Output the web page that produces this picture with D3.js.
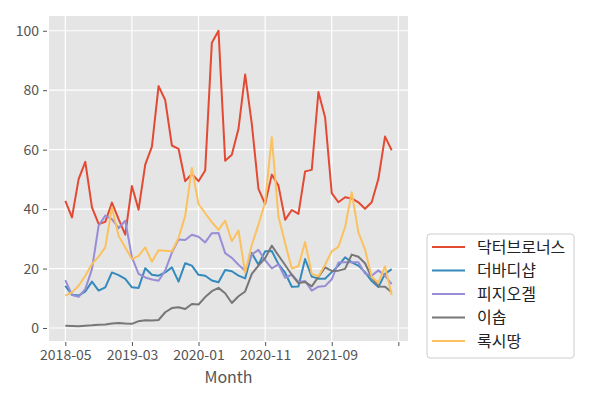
<!DOCTYPE html>
<html>
<head>
<meta charset="utf-8">
<script src="https://cdn.jsdelivr.net/npm/d3@7"></script>
<style>
  body { margin: 0; background: #fff; }
  svg { font-family: "Noto Sans CJK KR", "Noto Sans", sans-serif; }
</style>
</head>
<body>
<div class="chart"></div>
<script>
var svgWidth = 600;
var svgHeight = 400;

// plot area position (matches the reference)
var margin = { top: 16, right: 192, bottom: 59, left: 49 };
var width = svgWidth - margin.left - margin.right;
var height = svgHeight - margin.top - margin.bottom;

// months 2018-05 .. 2022-06
var months = [];
for (var m = 0; m < 50; m++) {
  var d = new Date(2018, 4 + m, 1);
  months.push(d3.timeFormat("%Y-%m")(d));
}

var seriesNames = ["닥터브로너스", "더바디샵", "피지오겔", "이솝", "록시땅"];
var colors = ["#E24A33", "#348ABD", "#988ED5", "#777777", "#FBC15E"];

var drBronners = [42.8, 37.2, 50.1, 55.9, 40.6, 35, 35.7, 42.2, 36.6, 31.4,
  47.8, 39.8, 55, 61, 81.4, 76.7, 61.4, 60.3, 49.4, 51.8,
  49.4, 53, 96, 100, 56.3, 58.3, 67, 85.3, 68.7, 46.8,
  41.7, 51.6, 47.9, 36.4, 39.7, 38.4, 52.7, 53.2, 79.4, 70.9,
  45.4, 42.3, 44, 43.6, 42.3, 40.1, 42.3, 50.1, 64.4, 59.8];
var bodyShop = [14.2, 11.2, 10.9, 12.3, 15.6, 12.6, 13.7, 18.7, 17.8, 16.5,
  13.7, 13.5, 20.1, 17.9, 17.6, 18.7, 20.4, 15.6, 21.8, 21,
  17.9, 17.6, 16, 15.4, 19.5, 19.1, 17.6, 16.7, 25.2, 21.3,
  25.8, 25.9, 21.5, 18.6, 13.9, 14, 23.2, 17.3, 16.6, 16.6,
  18.8, 21, 23.8, 22.1, 21, 18.8, 15.8, 13.8, 18.2, 19.8];
var physiogel = [16.1, 11.1, 10.5, 13.1, 19.8, 34.4, 37.8, 36.6, 33.6, 36.1,
  23.8, 18.2, 17, 16.3, 15.9, 19.3, 25.4, 29.8, 29.6, 31.4,
  30.7, 28.8, 31.9, 32, 25.2, 23.6, 21.3, 19.3, 24.7, 26.3,
  22.8, 20.1, 21.4, 16.9, 18, 15.5, 15.8, 12.6, 13.9, 14.1,
  16.4, 22, 22.1, 22.1, 22.1, 18.3, 17.6, 19.4, 17.6, 14.8];
var aesop = [0.8, 0.7, 0.6, 0.8, 0.9, 1.1, 1.2, 1.5, 1.7, 1.5,
  1.4, 2.3, 2.6, 2.5, 2.7, 5.3, 6.7, 7, 6.4, 8.1,
  7.9, 10.4, 12.4, 13.5, 11.7, 8.4, 10.7, 12.3, 18.2, 21,
  23.5, 27.7, 24.4, 21.2, 17.9, 15.1, 15.5, 14, 17.2, 20.4,
  19.2, 19.3, 19.9, 24.7, 24, 21.8, 17, 14, 13.9, 12];
var loccitane = [10.9, 12, 14.2, 17.6, 21.5, 24, 27.1, 40.5, 31, 27.1,
  23.2, 24.3, 27.1, 22.3, 26.2, 26, 25.8, 30.3, 37.8, 53.8,
  41.7, 38.6, 35.6, 33, 36.1, 29.2, 32.8, 18.6, 28, 34.8,
  42.3, 64.2, 37.5, 28.5, 20, 20.8, 28.9, 18.2, 17.4, 21.3,
  25.8, 27.3, 33.9, 45.7, 32.2, 26.4, 17.2, 15.2, 20.7, 11.1];

var seriesValues = [drBronners, bodyShop, physiogel, aesop, loccitane];

// tick positions every 10 months, last one has no label
var tickIndex = [0, 10, 20, 30, 40, 50];
var tickLabels = ["2018-05", "2019-03", "2020-01", "2020-11", "2021-09", ""];
var yTicks = [0, 20, 40, 60, 80, 100];

var svg = d3.select(".chart")
  .append("svg")
  .attr("width", svgWidth)
  .attr("height", svgHeight);

var chartGroup = svg.append("g")
  .attr("transform", `translate(${margin.left}, ${margin.top})`);

// matplotlib style 5% margins
var n = months.length;
var xPad = (n - 1) * 0.05;
var xScale = d3.scaleLinear()
  .domain([-xPad, n - 1 + xPad])
  .range([0, width]);

var allValues = d3.merge(seriesValues);
var yMin = d3.min(allValues), yMax = d3.max(allValues);
var yPad = (yMax - yMin) * 0.05;
var yScale = d3.scaleLinear()
  .domain([yMin - yPad, yMax + yPad])
  .range([height, 0]);

// background
chartGroup.append("rect")
  .attr("width", width)
  .attr("height", height)
  .attr("fill", "#E5E5E5");

// grid lines
chartGroup.selectAll(".xgrid")
  .data(tickIndex)
  .enter()
  .append("line")
  .attr("x1", d => xScale(d))
  .attr("x2", d => xScale(d))
  .attr("y1", 0)
  .attr("y2", height)
  .attr("stroke", "#fff")
  .attr("stroke-width", 1.2);

chartGroup.selectAll(".ygrid")
  .data(yTicks)
  .enter()
  .append("line")
  .attr("x1", 0)
  .attr("x2", width)
  .attr("y1", d => yScale(d))
  .attr("y2", d => yScale(d))
  .attr("stroke", "#fff")
  .attr("stroke-width", 1.2);

// axes
var bottomAxis = d3.axisBottom(xScale)
  .tickValues(tickIndex)
  .tickFormat((d, i) => tickLabels[i])
  .tickSize(4)
  .tickPadding(4);

var leftAxis = d3.axisLeft(yScale)
  .tickValues(yTicks)
  .tickSize(4)
  .tickPadding(4);

var xAxis = chartGroup.append("g")
  .attr("transform", `translate(0, ${height + 1})`)
  .call(bottomAxis);

var yAxis = chartGroup.append("g")
  .attr("transform", "translate(-2, 0)")
  .call(leftAxis);

[xAxis, yAxis].forEach(function(ax) {
  ax.select(".domain").remove();
  ax.selectAll(".tick line").attr("stroke", "#555555");
  ax.selectAll(".tick text")
    .attr("fill", "#555555")
    .attr("font-size", "14px")
    .attr("font-family", "'Noto Sans CJK KR', 'Noto Sans', sans-serif");
});

// x axis label
chartGroup.append("text")
  .attr("x", width / 2)
  .attr("y", height + 42)
  .attr("text-anchor", "middle")
  .attr("fill", "#555555")
  .attr("font-size", "16px")
  .text("Month");

// lines
var line = d3.line()
  .x((d, i) => xScale(i))
  .y(d => yScale(d));

chartGroup.selectAll(".series")
  .data(seriesValues)
  .enter()
  .append("path")
  .attr("d", d => line(d))
  .attr("fill", "none")
  .attr("stroke", (d, i) => colors[i])
  .attr("stroke-width", 2)
  .attr("stroke-linejoin", "round");

// legend, outside on the right
var legend = svg.append("g")
  .attr("transform", "translate(427, 234)");

legend.append("rect")
  .attr("width", 147)
  .attr("height", 124)
  .attr("rx", 3)
  .attr("fill", "#fff")
  .attr("stroke", "#CCCCCC")
  .attr("stroke-width", 1);

var items = legend.selectAll(".item")
  .data(seriesNames)
  .enter()
  .append("g")
  .attr("transform", (d, i) => `translate(0, ${13 + i * 23.5})`);

items.append("line")
  .attr("x1", 5)
  .attr("x2", 38)
  .attr("stroke", (d, i) => colors[i])
  .attr("stroke-width", 2);

items.append("text")
  .attr("x", 50)
  .attr("dy", "0.35em")
  .attr("fill", "#222")
  .attr("font-size", "16px")
  .text(d => d);
</script>
</body>
</html>
